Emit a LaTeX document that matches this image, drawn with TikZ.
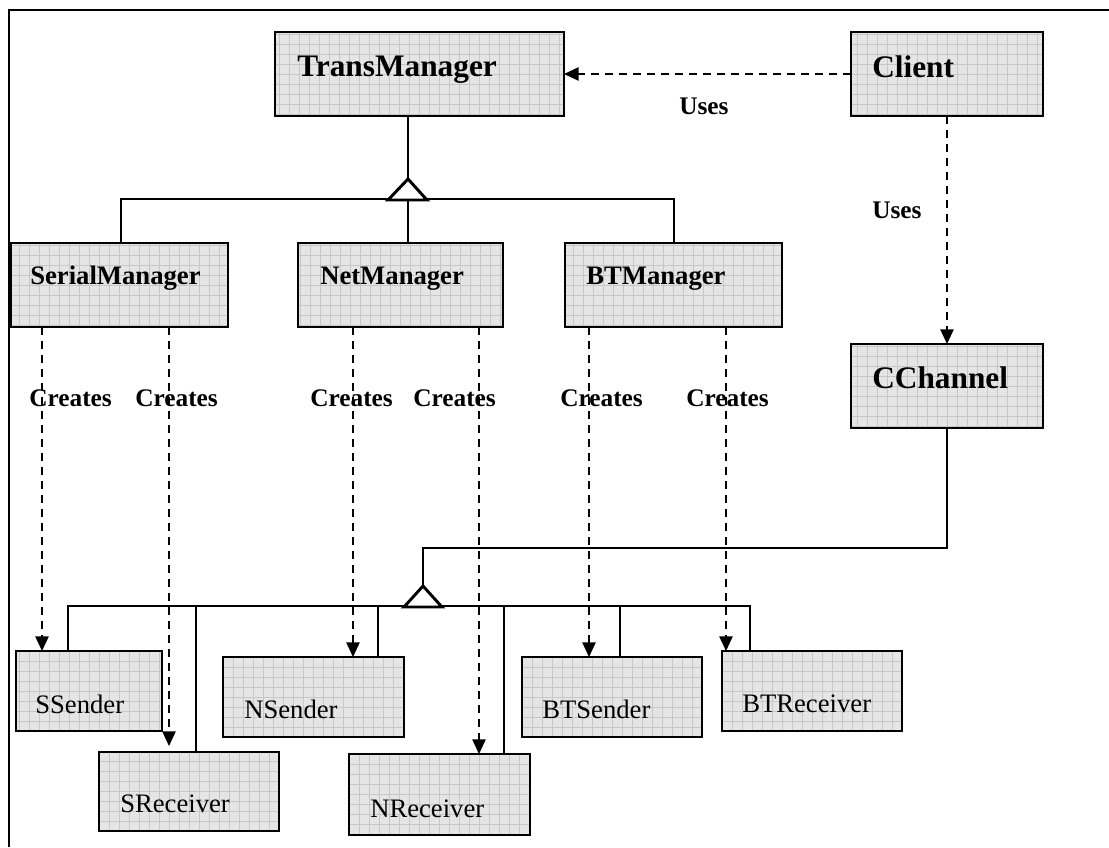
\documentclass[tikz,border=0pt]{standalone}
\usepackage{fontspec}
\setmainfont{Liberation Serif}
\usetikzlibrary{arrows.meta,calc}

\tikzset{
  cls/.style={draw=black, line width=1.5pt, fill=black!10, anchor=north west,
    inner sep=0pt, outer sep=0pt,
    path picture={\draw[black!22, line width=0.3pt]
      (path picture bounding box.south west) grid[step=7.5pt]
      (path picture bounding box.north east);}},
  bigname/.style={anchor=base west, inner sep=0pt, font=\fontsize{23.5}{28}\selectfont\bfseries},
  midname/.style={anchor=base west, inner sep=0pt, font=\fontsize{20}{24}\selectfont\bfseries},
  plainname/.style={anchor=base west, inner sep=0pt, font=\fontsize{20}{24}\selectfont},
  lbl/.style={anchor=base west, inner sep=0pt, font=\fontsize{19}{23}\selectfont\bfseries},
  dep/.style={line width=1.1pt, dash pattern=on 6pt off 4.5pt,
    -{Triangle[length=11pt,width=10pt]}},
  inh/.style={line width=1.1pt},
  inhb/.style={line width=1.5pt},
  tri/.style={line width=2.2pt, fill=white, line join=miter}
}

\begin{document}
\begin{tikzpicture}[x=0.75pt, y=-0.75pt]
\useasboundingbox (0,0) rectangle (1109,847);

% outer frame (top and left edges)
\draw[line width=2.2pt] (9,847) -- (9,10) -- (1109,10);

% ---- classes ----
\node[cls, minimum width=289*0.75pt, minimum height=84*0.75pt] (tm) at (275,32) {};
\node[bigname] (tmt) at (297,76) {TransManager};
\node[cls, minimum width=192*0.75pt, minimum height=84*0.75pt] (cl) at (851,32) {};
\node[bigname] (clt) at (872,77) {Client};

\node[cls, minimum width=217*0.75pt, minimum height=84*0.75pt] (sm) at (11,243) {};
\node[midname] (smt) at (30,284) {SerialManager};
\node[cls, minimum width=205*0.75pt, minimum height=84*0.75pt] (nm) at (298,243) {};
\node[midname] (nmt) at (320,284) {NetManager};
\node[cls, minimum width=217*0.75pt, minimum height=84*0.75pt] (bm) at (565,243) {};
\node[midname] (bmt) at (586,284) {BTManager};

\node[cls, minimum width=192*0.75pt, minimum height=84*0.75pt] (cc) at (851,344) {};
\node[bigname] (cct) at (872,388) {CChannel};

\node[cls, minimum width=146*0.75pt, minimum height=80*0.75pt] (ss) at (16,651) {};
\node[plainname] (sst) at (35,713) {SSender};
\node[cls, minimum width=180*0.75pt, minimum height=79*0.75pt] (sr) at (99,752) {};
\node[plainname] (srt) at (120,812) {SReceiver};
\node[cls, minimum width=181*0.75pt, minimum height=80*0.75pt] (ns) at (223,657) {};
\node[plainname] (nst) at (244,718) {NSender};
\node[cls, minimum width=181*0.75pt, minimum height=81*0.75pt] (nr) at (349,754) {};
\node[plainname] (nrt) at (370,817) {NReceiver};
\node[cls, minimum width=180*0.75pt, minimum height=80*0.75pt] (bs) at (522,657) {};
\node[plainname] (bst) at (542,718) {BTSender};
\node[cls, minimum width=180*0.75pt, minimum height=80*0.75pt] (br) at (722,651) {};
\node[plainname] (brt) at (742,712) {BTReceiver};

% ---- generalisation: managers -> TransManager ----
\coordinate (tmtri) at (408,199);
\coordinate (smup) at ($(sm.north west)+(110,0)$);
\coordinate (bmup) at ($(bm.north west)+(109,0)$);
\draw[inh] (tm.south -| tmtri) -- ($(tmtri)+(0,-20)$);
\draw[inh] (smup) -- (smup |- tmtri) -- (bmup |- tmtri) -- (bmup);
\draw[inh] (nm.north -| tmtri) -- (tmtri);
\draw[tri] (388,200) -- (408,179) -- (427,200) -- cycle;

% ---- realisation: channels -> CChannel ----
\coordinate (ccbar) at (423,606);
\coordinate (ssup) at ($(ss.north west)+(52,0)$);
\coordinate (brup) at ($(br.north west)+(28,0)$);
\draw[inhb] (cc.south) -- (cc.south |- 0,548) -- (ccbar |- 0,548) -- ($(ccbar)+(0,-20)$);
\draw[inhb] (ssup) -- (ssup |- ccbar) -- (brup |- ccbar) -- (brup);
\draw[inhb] (196,606) -- (196,752 |- sr.north);
\draw[inhb] (378,606) -- (378,657 |- ns.north);
\draw[inhb] (504,606) -- (504,754 |- nr.north);
\draw[inhb] (620,606) -- (620,657 |- bs.north);
\draw[tri] (404,607) -- (423,586) -- (442,607) -- cycle;

% ---- uses ----
\draw[dep] (cl.west) -- (cl.west -| tm.east);
\node[lbl] (u1) at (679,114) {Uses};
\draw[dep] (cl.south) -- (cc.north);
\node[lbl] (u2) at (872,218) {Uses};

% ---- creates ----
\draw[dep] (sm.south west) ++(31,0) coordinate (c1) -- (c1 |- ss.north);
\draw[dep] (sm.south west) ++(158,0) coordinate (c2) -- ($(c2 |- sr.north)+(0,-6)$);
\draw[dep] (nm.south west) ++(55,0) coordinate (c3) -- (c3 |- ns.north);
\draw[dep] (nm.south west) ++(181,0) coordinate (c4) -- (c4 |- nr.north);
\draw[dep] (bm.south west) ++(24,0) coordinate (c5) -- (c5 |- bs.north);
\draw[dep] (bm.south west) ++(161,0) coordinate (c6) -- (c6 |- br.north);

\node[lbl] (k1) at (29,406) {Creates};
\node[lbl] (k2) at (135,406) {Creates};
\node[lbl] (k3) at (310,406) {Creates};
\node[lbl] (k4) at (413,406) {Creates};
\node[lbl] (k5) at (560,406) {Creates};
\node[lbl] (k6) at (686,406) {Creates};
\end{tikzpicture}
\end{document}
